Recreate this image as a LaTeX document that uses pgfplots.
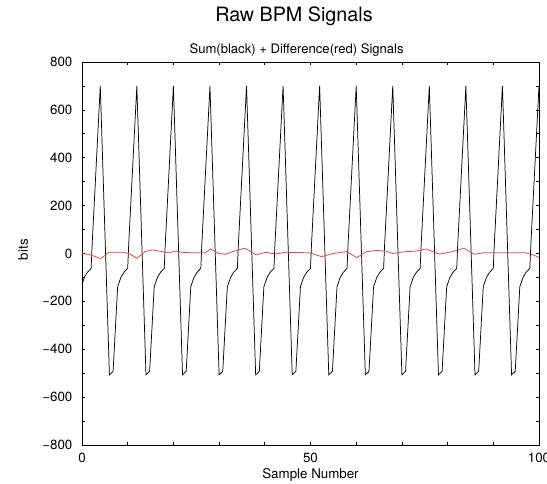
\documentclass[border=0pt]{standalone}
\usepackage{fontspec}
\setmainfont{TeX Gyre Heros}
\usepackage{pgfplots}
\pgfplotsset{compat=1.18}
\definecolor{diffred}{RGB}{222,72,72}
\begin{document}
\begin{tikzpicture}
\begin{axis}[
  scale only axis,
  width=342.75pt, height=287.25pt,
  xmin=0, xmax=100, ymin=-800, ymax=800,
  xtick={0,50,100}, xticklabels={0,50,100},
  minor xtick={10,20,30,40,60,70,80,90},
  ytick={-800,-600,-400,-200,0,200,400,600,800},
  yticklabels={−800,−600,−400,−200,0,200,400,600,800},
  minor ytick={-700,-500,-300,-100,100,300,500,700},
  tick align=inside,
  major tick length=2.5pt, minor tick length=2.5pt,
  tick style={black, line width=0.5pt},
  axis line style={line width=0.6pt},
  xticklabel style={yshift=-2.7pt, font=\fontsize{10}{12}\selectfont},
  yticklabel style={xshift=-3.7pt, font=\fontsize{10}{12}\selectfont},
  xlabel={Sample Number},
  xlabel style={at={(axis description cs:0.5,-0.078)}, anchor=center, font=\fontsize{10}{12}\selectfont},
  ylabel={bits},
  ylabel style={at={(axis description cs:-0.129,0.51)}, anchor=center, font=\fontsize{10}{12}\selectfont},
]
\addplot[black, line width=0.55pt] coordinates {
(0,-130)(0.5,-100)(1.2,-78)(2.0,-62)(2.2,30)
(4,700)(6,-507)(6.8,-492)(7.8,-139)(8.5,-100)(9.2,-78)(10,-62)(10.2,30)
(12,700)(14,-507)(14.8,-492)(15.8,-139)(16.5,-100)(17.2,-78)(18,-62)(18.2,30)
(20,700)(22,-507)(22.8,-492)(23.8,-139)(24.5,-100)(25.2,-78)(26,-62)(26.2,30)
(28,700)(30,-507)(30.8,-492)(31.8,-139)(32.5,-100)(33.2,-78)(34,-62)(34.2,30)
(36,700)(38,-507)(38.8,-492)(39.8,-139)(40.5,-100)(41.2,-78)(42,-62)(42.2,30)
(44,700)(46,-507)(46.8,-492)(47.8,-139)(48.5,-100)(49.2,-78)(50,-62)(50.2,30)
(52,700)(54,-507)(54.8,-492)(55.8,-139)(56.5,-100)(57.2,-78)(58,-62)(58.2,30)
(60,700)(62,-507)(62.8,-492)(63.8,-139)(64.5,-100)(65.2,-78)(66,-62)(66.2,30)
(68,700)(70,-507)(70.8,-492)(71.8,-139)(72.5,-100)(73.2,-78)(74,-62)(74.2,30)
(76,700)(78,-507)(78.8,-492)(79.8,-139)(80.5,-100)(81.2,-78)(82,-62)(82.2,30)
(84,700)(86,-507)(86.8,-492)(87.8,-139)(88.5,-100)(89.2,-78)(90,-62)(90.2,30)
(92,700)(94,-507)(94.8,-492)(95.8,-139)(96.5,-100)(97.2,-78)(98,-62)(98.2,30)
(100,700)
};
\addplot[diffred, line width=0.6pt] coordinates {
(0,0)(1,-2)(2.5,-10)(3.9,-20)(4.3,-19)(5.7,3)(6.1,5)(8.9,5)(10.3,0)(12,-20)
(13.8,8)(15.3,15)(17.5,8)(19,3)(20.5,10)(21.9,5)(24,3)(27,3)(28.1,19)(29.9,0)
(31.4,-3)(33,8)(35.6,22)(37,8)(38.1,-6)(40.2,5)(42.4,-2)(44.6,5)(49.7,3)(52.4,-13)
(55,0)(57.9,8)(60.1,-17)(62.3,8)(64.5,13)(66.4,10)(68,0)(70.9,8)(73.1,10)(75.3,19)
(78.2,-3)(81.1,8)(83.6,22)(85.8,-3)(88,3)(97,3)(98.8,-6)(100,-17)
};
\end{axis}
\node[anchor=base, font=\fontsize{14.8}{17}\selectfont] at ([xshift=-12.4pt, yshift=30pt]current axis.north) {Raw BPM Signals};
\node[anchor=base, font=\fontsize{9.8}{12}\selectfont] at ([xshift=-10.4pt, yshift=6.5pt]current axis.north) {Sum(black) + Difference(red) Signals};
\pgfresetboundingbox
\path[use as bounding box] ([xshift=-61.5pt, yshift=-28.5pt]current axis.south west) rectangle ([xshift=6pt, yshift=46.5pt]current axis.north east);
\end{tikzpicture}
\end{document}
